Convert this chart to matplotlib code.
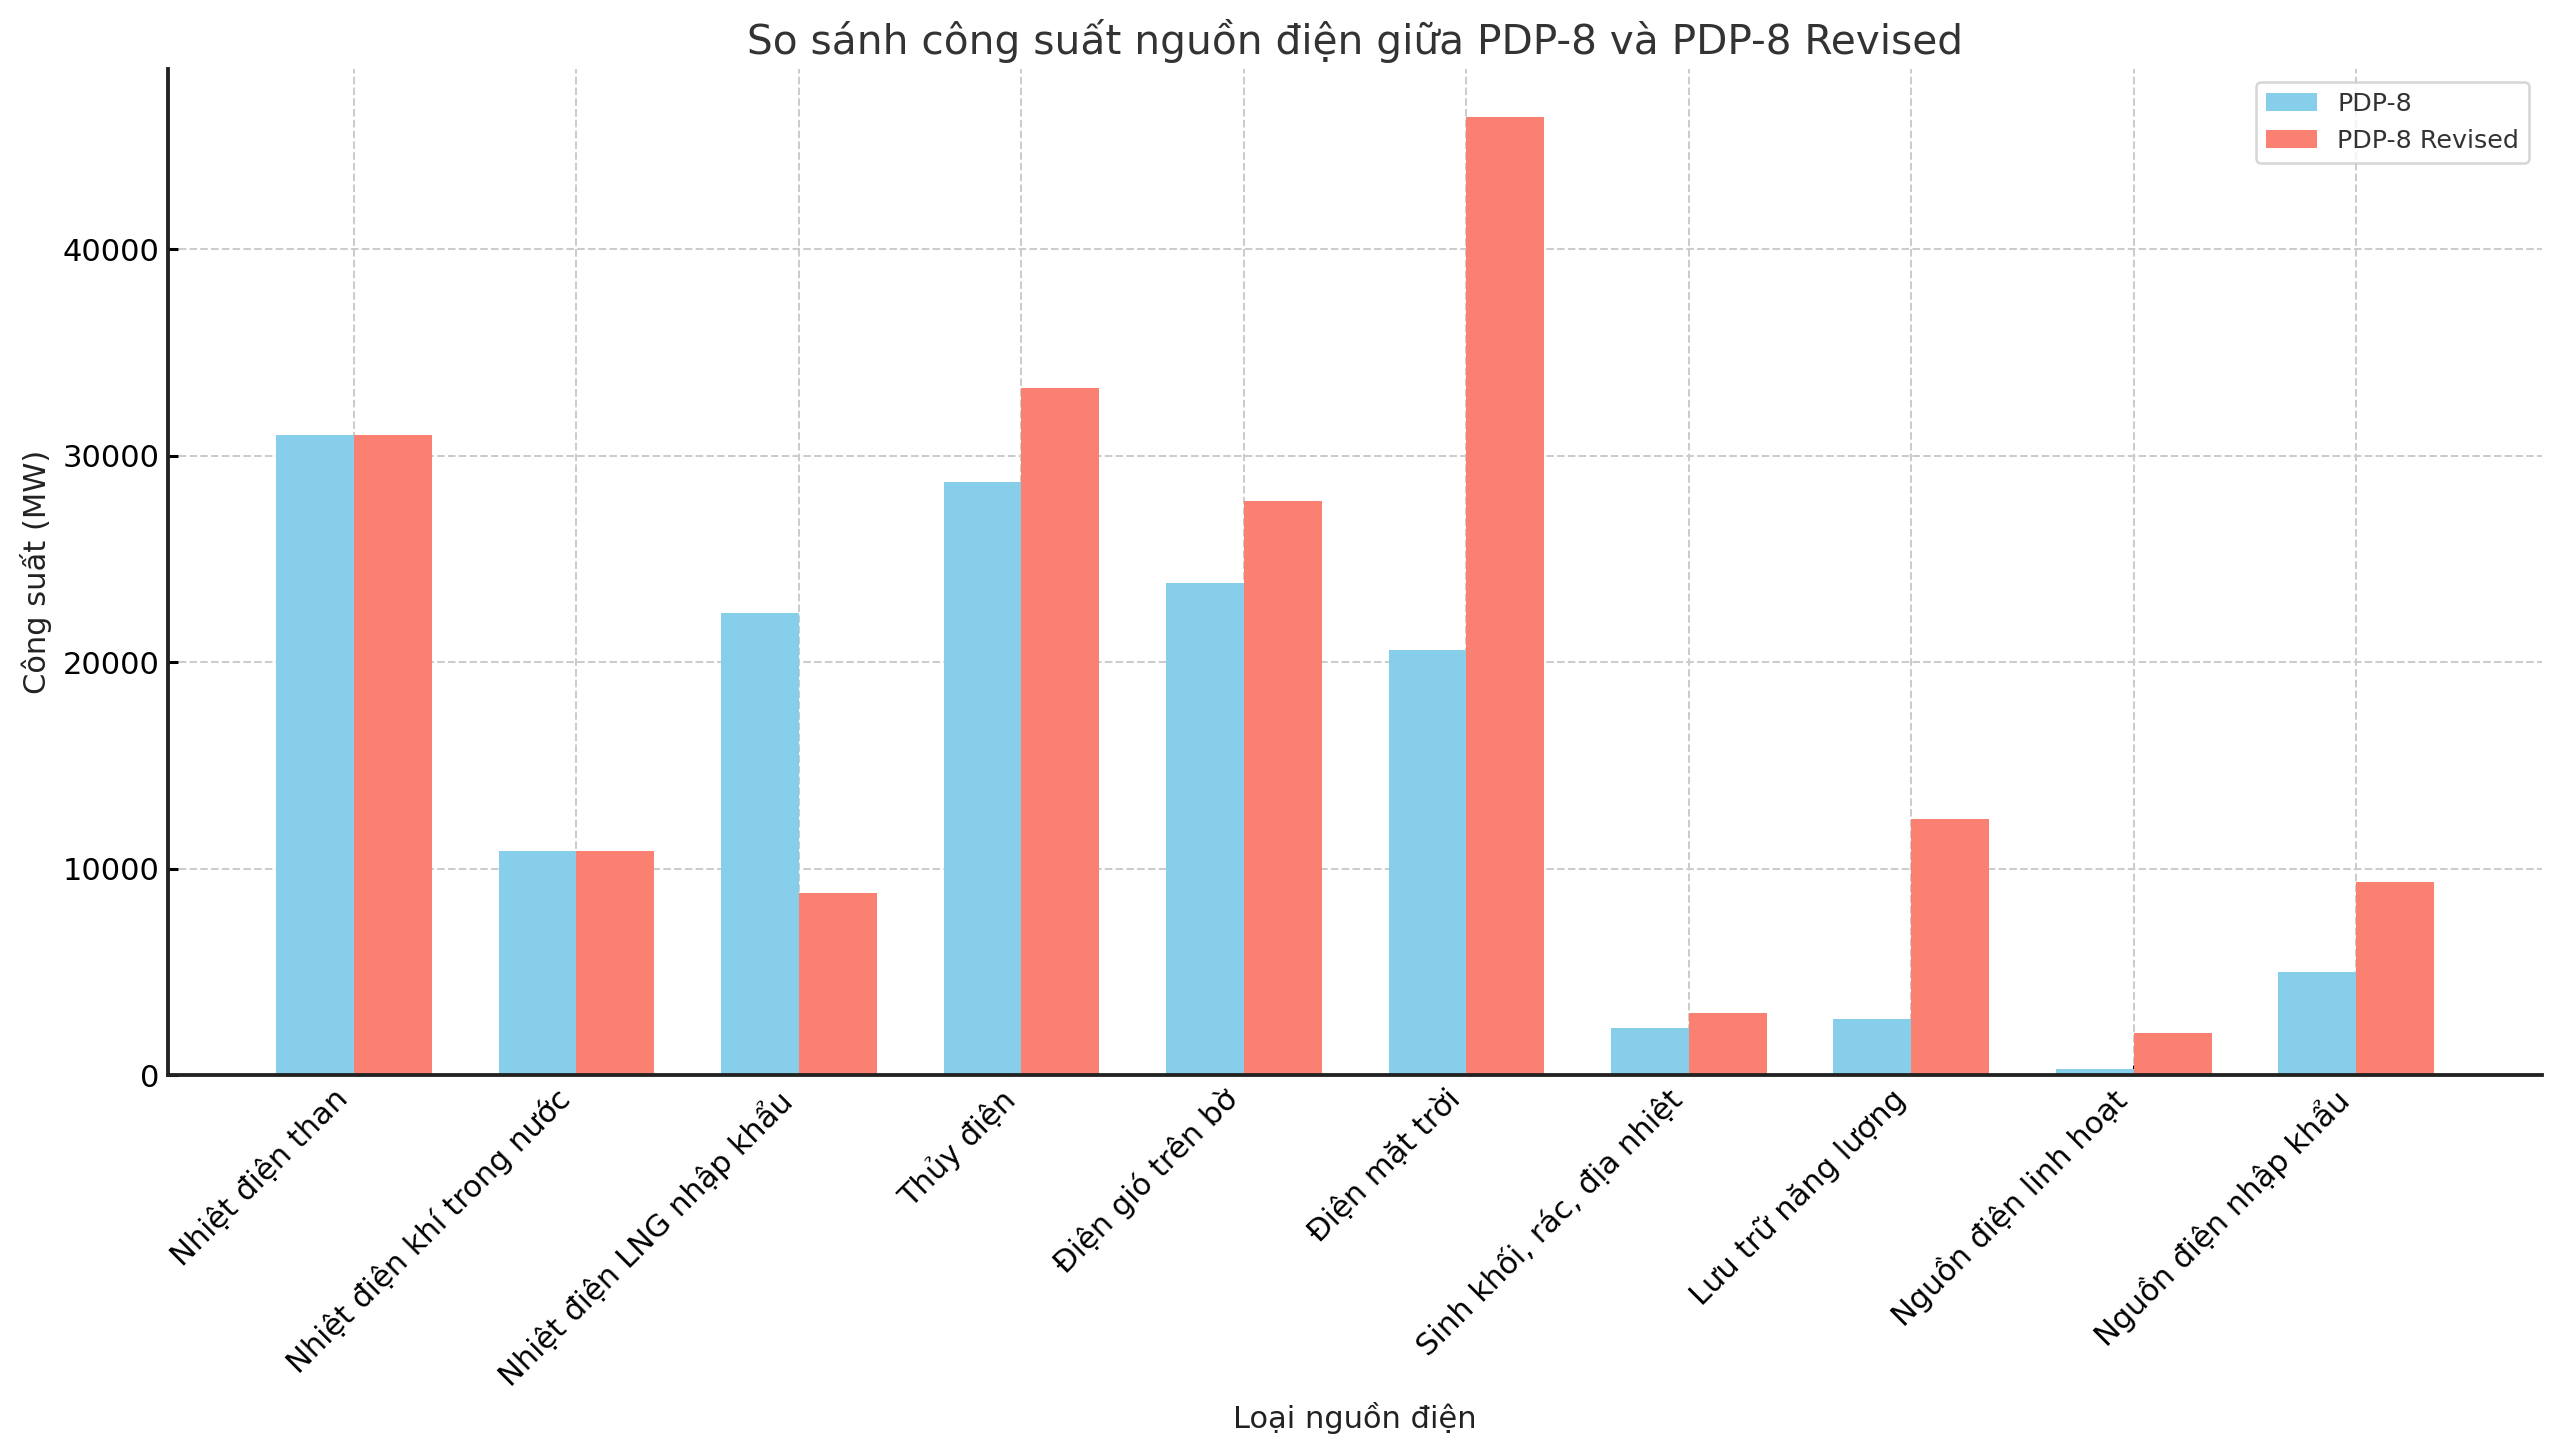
import matplotlib
matplotlib.use('Agg')
import matplotlib.pyplot as plt
import numpy as np

# loai nguon dien
categories = ['Nhiệt điện than', 'Nhiệt điện khí trong nước', 'Nhiệt điện LNG nhập khẩu',
              'Thủy điện', 'Điện gió trên bờ', 'Điện mặt trời', 'Sinh khối, rác, địa nhiệt',
              'Lưu trữ năng lượng', 'Nguồn điện linh hoạt', 'Nguồn điện nhập khẩu']
pdp8 = [30995, 10861, 22400, 28740, 23830, 20590, 2300, 2700, 300, 5000]
pdp8_revised = [30995, 10861, 8824, 33250, 27790, 46400, 3000, 12430, 2060, 9360]

plt.rcParams['font.family'] = ['DejaVu Sans']

fig, ax = plt.subplots(figsize=(14, 1455/182.857), dpi=182.857)
fig.subplots_adjust(left=0.0657, right=0.993, top=0.9526, bottom=0.261)

x = np.arange(len(categories))
w = 0.35
ax.bar(x - w/2, pdp8, w, label='PDP-8', color='skyblue')
ax.bar(x + w/2, pdp8_revised, w, label='PDP-8 Revised', color='salmon')

ax.set_title('So sánh công suất nguồn điện giữa PDP-8 và PDP-8 Revised', fontsize=16, color='#333333')
ax.set_xlabel('Loại nguồn điện', fontsize=12, color='#222222')
ax.set_ylabel('Công suất (MW)', fontsize=12, color='#222222')
ax.set_xticks(x)
ax.set_xticklabels(categories, rotation=45, ha='right', fontsize=12)
ax.tick_params(axis='y', labelsize=12)
ax.tick_params(direction='in', length=4, width=1.2)

ax.grid(True, linestyle='--', color='#cccccc', linewidth=0.8)
ax.set_axisbelow(True)
ax.spines['top'].set_visible(False)
ax.spines['right'].set_visible(False)
ax.spines['left'].set_linewidth(1.5)
ax.spines['bottom'].set_linewidth(1.5)
ax.spines['left'].set_color('#222222')
ax.spines['bottom'].set_color('#222222')

leg = ax.legend(loc='upper right', fontsize=10)
for t in leg.get_texts():
    t.set_color('#333333')

fig.savefig('out.png', dpi=182.857)
